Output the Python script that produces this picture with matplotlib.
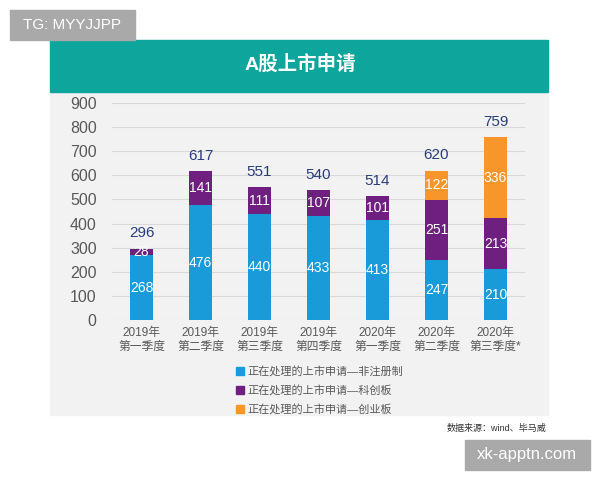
import matplotlib.pyplot as plt
from matplotlib.patches import Rectangle
from matplotlib.lines import Line2D

plt.rcParams['font.family'] = ['Liberation Sans', 'Noto Sans CJK SC', 'DejaVu Sans']

quarters = ['2019年\n第一季度', '2019年\n第二季度', '2019年\n第三季度', '2019年\n第四季度',
            '2020年\n第一季度', '2020年\n第二季度', '2020年\n第三季度*']
main_board = [268, 476, 440, 433, 413, 247, 210]
star_market = [28, 141, 111, 107, 101, 251, 213]
chinext = [0, 0, 0, 0, 0, 122, 336]
totals = [296, 617, 551, 540, 514, 620, 759]
legend_labels = ['正在处理的上市申请—非注册制', '正在处理的上市申请—科创板', '正在处理的上市申请—创业板']

blue = '#189bd8'
purple = '#6e1f80'
orange = '#f7962b'
teal = '#0ea59c'

W, H = 600, 480
fig = plt.figure(figsize=(6, 4.8), dpi=100)

def box(x, y, w, h, color):
    # pixel coords from top-left
    fig.patches.append(Rectangle((x / W, 1 - (y + h) / H), w / W, h / H,
                                 transform=fig.transFigure, color=color, zorder=-5))

box(50, 92, 498, 323, '#f2f2f2')
box(50, 40, 498, 52, teal)
box(10, 10, 125, 30, '#a9a9a9')
box(465, 440, 125, 30, '#a9a9a9')

fig.text(300 / W, 1 - 64 / H, 'A股上市申请', color='white', fontsize=14, fontweight='bold',
         ha='center', va='center')
fig.text(72 / W, 1 - 25 / H, 'TG: MYYJJPP', color='white', fontsize=11, ha='center', va='center')
fig.text(527 / W, 1 - 455 / H, 'xk-apptn.com', color='white', fontsize=12, ha='center', va='center')
fig.text(546 / W, 1 - 428 / H, '数据来源：wind、毕马威', color='#333333', fontsize=6.5,
         ha='right', va='center')

ax = fig.add_axes([112 / W, 1 - 320 / H, 413 / W, 217 / H])
ax.set_facecolor('none')
x = list(range(len(quarters)))
bw = 0.39
ax.bar(x, main_board, bw, color=blue, zorder=3)
ax.bar(x, star_market, bw, bottom=main_board, color=purple, zorder=3)
bottom2 = [a + b for a, b in zip(main_board, star_market)]
ax.bar(x, chinext, bw, bottom=bottom2, color=orange, zorder=3)

for i in x:
    ax.text(i, main_board[i] / 2, str(main_board[i]), color='white', fontsize=10,
            ha='center', va='center', zorder=4)
    ax.text(i, main_board[i] + star_market[i] / 2, str(star_market[i]), color='white',
            fontsize=10, ha='center', va='center', zorder=4)
    if chinext[i]:
        ax.text(i, bottom2[i] + chinext[i] / 2, str(chinext[i]), color='white',
                fontsize=10, ha='center', va='center', zorder=4)
    ax.annotate(str(totals[i]), (i, totals[i]), xytext=(0, 11), textcoords='offset points',
                color='#2a3d78', fontsize=11, ha='center', va='center')

ax.set_xlim(-0.5, 6.5)
ax.set_ylim(0, 900)
ax.set_yticks(range(0, 901, 100))
ax.set_xticks(x)
ax.set_xticklabels(quarters, fontsize=8.5, color='#595959', linespacing=1.2)
ax.tick_params(axis='y', length=0, pad=11, labelsize=11.5, labelcolor='#595959')
ax.tick_params(axis='x', length=0, pad=5)
ax.grid(axis='y', color='#d9d9d9', linewidth=0.8, zorder=0)
for s in ax.spines.values():
    s.set_visible(False)

handles = [Line2D([], [], marker='s', linestyle='none', markersize=5.5, color=c)
           for c in (blue, purple, orange)]
fig.legend(handles, legend_labels, loc='upper left', bbox_to_anchor=(230 / W, 1 - 361 / H),
           frameon=False, fontsize=8, labelcolor='#595959', handletextpad=0.2,
           labelspacing=0.72, handlelength=1.0, borderaxespad=0)

fig.savefig('out.png', dpi=100)
